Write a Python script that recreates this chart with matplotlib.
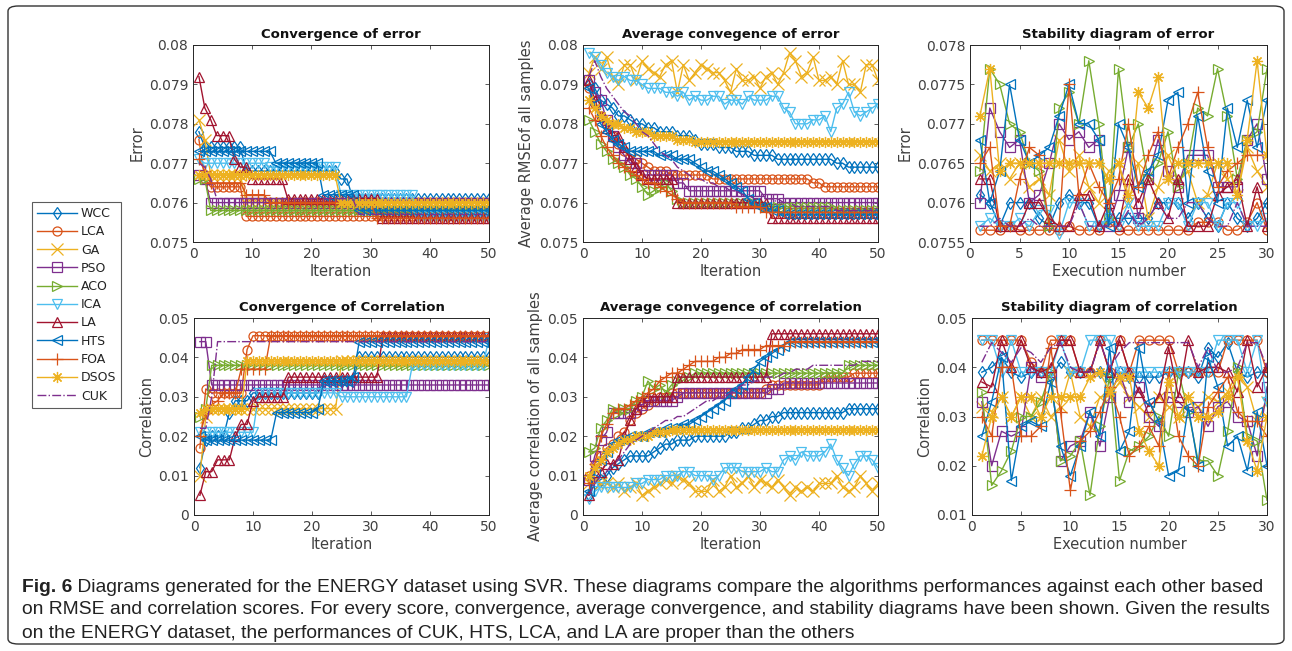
import matplotlib
matplotlib.use("Agg")
import matplotlib.pyplot as plt
from matplotlib.patches import FancyBboxPatch
from matplotlib.ticker import FuncFormatter

# --- series names / styles ---
names = ["WCC", "LCA", "GA", "PSO", "ACO", "ICA", "LA", "HTS", "FOA", "DSOS", "CUK"]
colors = ["#0072BD", "#D95319", "#EDB120", "#7E2F8E", "#77AC30", "#4DBEEE",
          "#A2142F", "#0072BD", "#D95319", "#EDB120", "#7E2F8E"]
markers = ["d", "o", "x", "s", ">", "v", "^", "<", "+", (8, 2, 0), None]

iters = list(range(1, 51))
runs = list(range(1, 31))

# --- Convergence of error ---
conv_err_wcc = [0.0778, 0.0774, 0.0774, 0.0774, 0.0774, 0.0774, 0.0774, 0.0774, 0.0768, 0.0768,
                0.0768, 0.0768, 0.0768, 0.0768, 0.0768, 0.0768, 0.0768, 0.0768, 0.0768, 0.0768,
                0.0768, 0.0768, 0.0768, 0.0768, 0.0766, 0.0766, 0.0761, 0.0761, 0.0761, 0.0761,
                0.0761, 0.0761, 0.0761, 0.0761, 0.0761, 0.0761, 0.0761, 0.0761, 0.0761, 0.0761,
                0.0761, 0.0761, 0.0761, 0.0761, 0.0761, 0.0761, 0.0761, 0.0761, 0.0761, 0.0761]
conv_err_lca = [0.0776, 0.0766, 0.0764, 0.0764, 0.0764, 0.0764, 0.0764, 0.0764, 0.07565, 0.07565,
                0.07565, 0.07565, 0.07565, 0.07565, 0.07565, 0.07565, 0.07565, 0.07565, 0.07565, 0.07565,
                0.07565, 0.07565, 0.07565, 0.07565, 0.07565, 0.07565, 0.07565, 0.07565, 0.07565, 0.07565,
                0.07565, 0.07565, 0.07565, 0.07565, 0.07565, 0.07565, 0.07565, 0.07565, 0.07565, 0.07565,
                0.07565, 0.07565, 0.07565, 0.07565, 0.07565, 0.07565, 0.07565, 0.07565, 0.07565, 0.07565]
conv_err_ga = [0.0781, 0.0776, 0.0767, 0.0767, 0.0767, 0.0767, 0.0767, 0.0767, 0.0760, 0.0760,
               0.0760, 0.0760, 0.0760, 0.0760, 0.0760, 0.0760, 0.0760, 0.0760, 0.0760, 0.0760,
               0.0760, 0.0760, 0.0760, 0.0760, 0.0760, 0.0760, 0.0760, 0.0760, 0.0760, 0.0760,
               0.0760, 0.0760, 0.0760, 0.0760, 0.0760, 0.0760, 0.0760, 0.0760, 0.0760, 0.0760,
               0.0760, 0.0760, 0.0760, 0.0760, 0.0760, 0.0760, 0.0760, 0.0760, 0.0760, 0.0760]
conv_err_pso = [0.0767, 0.0766, 0.0760, 0.0760, 0.0760, 0.0760, 0.0760, 0.0760, 0.0760, 0.0760,
                0.0760, 0.0760, 0.0760, 0.0760, 0.0760, 0.0760, 0.0760, 0.0760, 0.0760, 0.0760,
                0.0760, 0.0760, 0.0760, 0.0760, 0.0760, 0.0760, 0.0760, 0.0760, 0.0760, 0.0760,
                0.0760, 0.0760, 0.0760, 0.0760, 0.0760, 0.0760, 0.0760, 0.0760, 0.0760, 0.0760,
                0.0760, 0.0760, 0.0760, 0.0760, 0.0760, 0.0760, 0.0760, 0.0760, 0.0760, 0.0760]
conv_err_aco = [0.0766, 0.0766, 0.0758, 0.0758, 0.0758, 0.0758, 0.0758, 0.0758, 0.0758, 0.0758,
                0.0758, 0.0758, 0.0758, 0.0758, 0.0758, 0.0758, 0.0758, 0.0758, 0.0758, 0.0758,
                0.0758, 0.0758, 0.0758, 0.0758, 0.0758, 0.0758, 0.0758, 0.0758, 0.0758, 0.0758,
                0.0758, 0.0758, 0.0758, 0.0758, 0.0758, 0.0758, 0.0758, 0.0758, 0.0758, 0.0758,
                0.0758, 0.0758, 0.0758, 0.0758, 0.0758, 0.0758, 0.0758, 0.0758, 0.0758, 0.0758]
conv_err_ica = [0.0771, 0.0770, 0.0770, 0.0770, 0.0770, 0.0770, 0.0770, 0.0770, 0.0770, 0.0770,
                0.0770, 0.0770, 0.0769, 0.0769, 0.0769, 0.0769, 0.0769, 0.0769, 0.0769, 0.0769,
                0.0769, 0.0769, 0.0769, 0.0769, 0.0762, 0.0762, 0.0762, 0.0762, 0.0762, 0.0762,
                0.0762, 0.0762, 0.0762, 0.0762, 0.0762, 0.0762, 0.0762, 0.07565, 0.07565, 0.07565,
                0.07565, 0.07565, 0.07565, 0.07565, 0.07565, 0.07565, 0.07565, 0.07565, 0.07565, 0.07565]
conv_err_la = [0.0792, 0.0784, 0.0781, 0.0777, 0.0777, 0.0777, 0.0771, 0.0769, 0.0769, 0.0766,
               0.0766, 0.0766, 0.0766, 0.0766, 0.0766, 0.0761, 0.0761, 0.0761, 0.0761, 0.0761,
               0.0761, 0.0761, 0.0761, 0.0761, 0.0761, 0.0761, 0.0761, 0.0761, 0.0761, 0.0761,
               0.0761, 0.0756, 0.0756, 0.0756, 0.0756, 0.0756, 0.0756, 0.0756, 0.0756, 0.0756,
               0.0756, 0.0756, 0.0756, 0.0756, 0.0756, 0.0756, 0.0756, 0.0756, 0.0756, 0.0756]
conv_err_hts = [0.0773, 0.0773, 0.0773, 0.0773, 0.0773, 0.0773, 0.0773, 0.0773, 0.0773, 0.0773,
                0.0773, 0.0773, 0.0773, 0.0770, 0.0770, 0.0770, 0.0770, 0.0770, 0.0770, 0.0770,
                0.0770, 0.0762, 0.0762, 0.0762, 0.0762, 0.0762, 0.0762, 0.0758, 0.0758, 0.0758,
                0.0758, 0.0758, 0.0758, 0.0758, 0.0758, 0.0758, 0.0758, 0.0758, 0.0758, 0.0758,
                0.0758, 0.0758, 0.0758, 0.0758, 0.0758, 0.0758, 0.0758, 0.0758, 0.0758, 0.0758]
conv_err_foa = [0.0771, 0.0768, 0.0765, 0.0765, 0.0765, 0.0765, 0.0765, 0.0765, 0.0762, 0.0762,
                0.0762, 0.0762, 0.0760, 0.0760, 0.0760, 0.0760, 0.0760, 0.0760, 0.0760, 0.0760,
                0.0760, 0.0760, 0.0760, 0.0760, 0.0760, 0.0760, 0.0760, 0.0760, 0.0760, 0.0760,
                0.0756, 0.0756, 0.0756, 0.0756, 0.0756, 0.0756, 0.0756, 0.0756, 0.0756, 0.0756,
                0.0756, 0.0756, 0.0756, 0.0756, 0.0756, 0.0756, 0.0756, 0.0756, 0.0756, 0.0756]
conv_err_dsos = [0.0767, 0.0767, 0.0767, 0.0767, 0.0767, 0.0767, 0.0767, 0.0767, 0.0767, 0.0767,
                 0.0767, 0.0767, 0.0767, 0.0767, 0.0767, 0.0767, 0.0767, 0.0767, 0.0767, 0.0767,
                 0.0767, 0.0767, 0.0767, 0.0767, 0.0760, 0.0760, 0.0760, 0.0760, 0.0760, 0.0760,
                 0.0760, 0.0760, 0.0760, 0.0760, 0.0760, 0.0760, 0.0760, 0.0760, 0.0760, 0.0760,
                 0.0760, 0.0760, 0.0760, 0.0760, 0.0760, 0.0760, 0.0760, 0.0760, 0.0760, 0.0760]
conv_err_cuk = [0.0770, 0.0769, 0.0766, 0.0761, 0.0761, 0.0761, 0.0761, 0.0761, 0.0761, 0.0761,
                0.0761, 0.0761, 0.0761, 0.0761, 0.0761, 0.0761, 0.0761, 0.0761, 0.0761, 0.0761,
                0.0761, 0.0761, 0.0761, 0.0761, 0.0761, 0.0761, 0.0761, 0.0757, 0.0757, 0.0757,
                0.0757, 0.0757, 0.0757, 0.0757, 0.0757, 0.0757, 0.0757, 0.0757, 0.0757, 0.0757,
                0.0757, 0.0757, 0.0757, 0.0757, 0.0757, 0.0757, 0.0757, 0.0757, 0.0757, 0.0757]

# --- Average convergence of error ---
avg_err_wcc = [0.0790, 0.0789, 0.0786, 0.0785, 0.0784, 0.0782, 0.0782, 0.0781, 0.0780, 0.0780,
               0.0779, 0.0779, 0.0778, 0.0778, 0.0778, 0.0777, 0.0777, 0.0777, 0.0776, 0.0775,
               0.0775, 0.0775, 0.0774, 0.0774, 0.0774, 0.0773, 0.0773, 0.0773, 0.0772, 0.0772,
               0.0772, 0.0772, 0.0771, 0.0771, 0.0771, 0.0771, 0.0771, 0.0771, 0.0771, 0.0771,
               0.0771, 0.0771, 0.0770, 0.0770, 0.0769, 0.0769, 0.0769, 0.0769, 0.0769, 0.0769]
avg_err_lca = [0.0789, 0.0785, 0.0782, 0.0780, 0.0777, 0.0775, 0.0773, 0.0772, 0.0771, 0.0770,
               0.0769, 0.0768, 0.0768, 0.0768, 0.0767, 0.0767, 0.0767, 0.0767, 0.0767, 0.0767,
               0.0767, 0.0766, 0.0766, 0.0766, 0.0766, 0.0766, 0.0766, 0.0766, 0.0766, 0.0766,
               0.0766, 0.0766, 0.0766, 0.0766, 0.0766, 0.0766, 0.0766, 0.0766, 0.0765, 0.0765,
               0.0764, 0.0764, 0.0764, 0.0764, 0.0764, 0.0764, 0.0764, 0.0764, 0.0764, 0.0764]
avg_err_ga = [0.0793, 0.0797, 0.0794, 0.0797, 0.0792, 0.0790, 0.0795, 0.0795, 0.0791, 0.0796,
              0.0794, 0.0793, 0.0792, 0.0795, 0.0796, 0.0788, 0.0795, 0.0791, 0.0793, 0.0795,
              0.0794, 0.0793, 0.0793, 0.0791, 0.0788, 0.0794, 0.0791, 0.0791, 0.0792, 0.0789,
              0.0792, 0.0793, 0.0790, 0.0793, 0.0798, 0.0796, 0.0792, 0.0793, 0.0797, 0.0791,
              0.0791, 0.0792, 0.0790, 0.0796, 0.0790, 0.0790, 0.0788, 0.0795, 0.0795, 0.0791]
avg_err_pso = [0.0791, 0.0788, 0.0786, 0.0781, 0.0777, 0.0774, 0.0772, 0.0770, 0.0770, 0.0767,
               0.0767, 0.0767, 0.0767, 0.0767, 0.0767, 0.0765, 0.0765, 0.0763, 0.0763, 0.0763,
               0.0763, 0.0763, 0.0763, 0.0763, 0.0763, 0.0763, 0.0763, 0.0763, 0.0763, 0.0763,
               0.0761, 0.0761, 0.0761, 0.0760, 0.0760, 0.0760, 0.0760, 0.0760, 0.0760, 0.0760,
               0.0760, 0.0760, 0.0760, 0.0760, 0.0760, 0.0760, 0.0760, 0.0760, 0.0760, 0.0760]
avg_err_aco = [0.0781, 0.0778, 0.0775, 0.0773, 0.0771, 0.0770, 0.0769, 0.0767, 0.0766, 0.0764,
               0.0762, 0.0763, 0.0764, 0.0765, 0.0763, 0.0761, 0.0760, 0.0760, 0.0760, 0.0760,
               0.0760, 0.0760, 0.0760, 0.0760, 0.0760, 0.0760, 0.0760, 0.0760, 0.0760, 0.0760,
               0.0759, 0.0759, 0.0759, 0.0759, 0.0759, 0.0759, 0.0759, 0.0759, 0.0759, 0.0759,
               0.0759, 0.0759, 0.0758, 0.0758, 0.0758, 0.0758, 0.0758, 0.0758, 0.0758, 0.0758]
avg_err_ica = [0.0798, 0.0797, 0.0795, 0.0793, 0.0792, 0.0791, 0.0792, 0.0791, 0.0791, 0.0790,
               0.0789, 0.0789, 0.0789, 0.0788, 0.0788, 0.0787, 0.0788, 0.0786, 0.0787, 0.0786,
               0.0786, 0.0787, 0.0787, 0.0785, 0.0786, 0.0786, 0.0785, 0.0787, 0.0786, 0.0786,
               0.0786, 0.0787, 0.0787, 0.0784, 0.0783, 0.0780, 0.0780, 0.0780, 0.0781, 0.0781,
               0.0782, 0.0778, 0.0784, 0.0785, 0.0788, 0.0783, 0.0782, 0.0783, 0.0784, 0.0785]
avg_err_la = [0.0791, 0.0786, 0.0782, 0.0779, 0.0777, 0.0777, 0.0774, 0.0771, 0.0769, 0.0767,
              0.0766, 0.0766, 0.0766, 0.0766, 0.0766, 0.0760, 0.0760, 0.0760, 0.0760, 0.0760,
              0.0760, 0.0760, 0.0760, 0.0760, 0.0760, 0.0760, 0.0760, 0.0760, 0.0760, 0.0760,
              0.0760, 0.0756, 0.0756, 0.0756, 0.0756, 0.0756, 0.0756, 0.0756, 0.0756, 0.0756,
              0.0756, 0.0756, 0.0756, 0.0756, 0.0756, 0.0756, 0.0756, 0.0756, 0.0756, 0.0756]
avg_err_hts = [0.0789, 0.0785, 0.0780, 0.0778, 0.0776, 0.0775, 0.0774, 0.0773, 0.0773, 0.0773,
               0.0773, 0.0773, 0.0772, 0.0772, 0.0772, 0.0771, 0.0771, 0.0771, 0.0770, 0.0769,
               0.0768, 0.0768, 0.0767, 0.0766, 0.0765, 0.0764, 0.0763, 0.0761, 0.0760, 0.0759,
               0.0759, 0.0758, 0.0758, 0.0757, 0.0757, 0.0757, 0.0757, 0.0757, 0.0757, 0.0757,
               0.0757, 0.0757, 0.0757, 0.0757, 0.0757, 0.0757, 0.0757, 0.0757, 0.0757, 0.0757]
avg_err_foa = [0.0784, 0.0781, 0.0777, 0.0774, 0.0772, 0.0770, 0.0769, 0.0768, 0.0767, 0.0766,
               0.0765, 0.0765, 0.0764, 0.0763, 0.0762, 0.0761, 0.0760, 0.0760, 0.0760, 0.0760,
               0.0760, 0.0760, 0.0760, 0.0760, 0.0760, 0.0759, 0.0759, 0.0759, 0.0759, 0.0759,
               0.07575, 0.07575, 0.07575, 0.07575, 0.07575, 0.07575, 0.07575, 0.07575, 0.07575, 0.07575,
               0.07575, 0.07575, 0.07575, 0.07575, 0.07575, 0.07575, 0.07575, 0.07575, 0.07575, 0.07575]
avg_err_dsos = [0.0786, 0.0784, 0.0782, 0.0781, 0.0780, 0.0780, 0.0779, 0.0779, 0.0778, 0.0778,
                0.0778, 0.0777, 0.0777, 0.0777, 0.0777, 0.0776, 0.0776, 0.0776, 0.07755, 0.07755,
                0.07755, 0.07755, 0.07755, 0.07755, 0.07755, 0.07755, 0.07755, 0.07755, 0.07755, 0.07755,
                0.07755, 0.07755, 0.07755, 0.07755, 0.07755, 0.07755, 0.07755, 0.07755, 0.07755, 0.07755,
                0.07755, 0.07755, 0.07755, 0.07755, 0.07755, 0.07755, 0.07755, 0.07755, 0.07755, 0.07755]
avg_err_cuk = [0.0792, 0.0796, 0.0792, 0.0789, 0.0787, 0.0785, 0.0783, 0.0782, 0.0780, 0.0778,
               0.0777, 0.0775, 0.0773, 0.0772, 0.0771, 0.0769, 0.0768, 0.0767, 0.0766, 0.0766,
               0.0765, 0.0765, 0.0764, 0.0764, 0.0763, 0.0763, 0.0762, 0.0762, 0.0761, 0.0761,
               0.0761, 0.0761, 0.0760, 0.0760, 0.0760, 0.0759, 0.0759, 0.0759, 0.0759, 0.0759,
               0.0759, 0.0759, 0.0758, 0.0758, 0.0758, 0.0758, 0.0758, 0.0758, 0.0758, 0.0758]

# --- Stability diagram of error ---
stab_err_wcc = [0.0761, 0.0760, 0.0757, 0.0760, 0.0760, 0.0760, 0.0758, 0.0757, 0.0760, 0.0761,
                0.0760, 0.0760, 0.0757, 0.0758, 0.0758, 0.0758, 0.0758, 0.0758, 0.0760, 0.0760,
                0.0760, 0.0758, 0.0760, 0.0758, 0.0757, 0.0760, 0.0758, 0.0757, 0.0758, 0.0760]
stab_err_lca = [0.07565, 0.07565, 0.07565, 0.0757, 0.07565, 0.07565, 0.07565, 0.07565, 0.07565, 0.0757,
                0.07565, 0.07565, 0.07565, 0.07575, 0.07565, 0.07565, 0.07565, 0.07565, 0.07565, 0.07565,
                0.07565, 0.07565, 0.07575, 0.07575, 0.07575, 0.07565, 0.07565, 0.07575, 0.0760, 0.07565]
stab_err_ga = [0.0766, 0.0764, 0.0765, 0.0763, 0.0765, 0.0762, 0.0763, 0.0761, 0.0768, 0.0764,
               0.0766, 0.0762, 0.0760, 0.0764, 0.0765, 0.0760, 0.0765, 0.0758, 0.0762, 0.0766,
               0.0763, 0.0764, 0.0760, 0.0761, 0.0765, 0.0763, 0.0761, 0.0767, 0.0764, 0.0762]
stab_err_pso = [0.0760, 0.0772, 0.0769, 0.0767, 0.0768, 0.0760, 0.0761, 0.0765, 0.0770, 0.0768,
                0.0769, 0.0767, 0.0768, 0.0757, 0.0761, 0.0767, 0.0758, 0.0763, 0.0768, 0.0764,
                0.0762, 0.0766, 0.0766, 0.0766, 0.0762, 0.0762, 0.0762, 0.0768, 0.0770, 0.0763]
stab_err_aco = [0.0764, 0.0777, 0.0775, 0.0770, 0.0769, 0.0765, 0.0764, 0.0757, 0.0772, 0.0774,
                0.0770, 0.0778, 0.0770, 0.0758, 0.0777, 0.0767, 0.0770, 0.0763, 0.0765, 0.0769,
                0.0762, 0.0765, 0.0772, 0.0771, 0.0777, 0.0771, 0.0763, 0.0768, 0.0769, 0.0777]
stab_err_ica = [0.0757, 0.0758, 0.0757, 0.0757, 0.0758, 0.0757, 0.0759, 0.0759, 0.0756, 0.0760,
                0.0760, 0.0757, 0.0757, 0.0758, 0.0757, 0.0760, 0.0757, 0.0757, 0.0757, 0.0760,
                0.0760, 0.0757, 0.0760, 0.0760, 0.0757, 0.0760, 0.0760, 0.0757, 0.0757, 0.0758]
stab_err_la = [0.0763, 0.0763, 0.0757, 0.0757, 0.0757, 0.0760, 0.0760, 0.0758, 0.0757, 0.0757,
               0.0761, 0.0761, 0.0757, 0.0760, 0.0757, 0.0763, 0.0760, 0.0763, 0.0760, 0.0758,
               0.0763, 0.0757, 0.0757, 0.0757, 0.0761, 0.0762, 0.0763, 0.0757, 0.0762, 0.0757]
stab_err_hts = [0.0768, 0.0760, 0.0764, 0.0775, 0.0768, 0.0765, 0.0766, 0.0767, 0.0771, 0.0775,
                0.0770, 0.0770, 0.0768, 0.0757, 0.0770, 0.0767, 0.0762, 0.0764, 0.0766, 0.0773,
                0.0774, 0.0760, 0.0771, 0.0764, 0.0760, 0.0772, 0.0767, 0.0773, 0.0767, 0.0773]
stab_err_foa = [0.0765, 0.0767, 0.0757, 0.0757, 0.0763, 0.0767, 0.0766, 0.0757, 0.0757, 0.0775,
                0.0761, 0.0765, 0.0762, 0.0760, 0.0763, 0.0770, 0.0762, 0.0766, 0.0769, 0.0763,
                0.0767, 0.0770, 0.0774, 0.0767, 0.0762, 0.0764, 0.0765, 0.0766, 0.0766, 0.0766]
stab_err_dsos = [0.0771, 0.0777, 0.0764, 0.0765, 0.0765, 0.0765, 0.0765, 0.0765, 0.0765, 0.0765,
                 0.0765, 0.0765, 0.0765, 0.0763, 0.0765, 0.0761, 0.0774, 0.0772, 0.0776, 0.0763,
                 0.0765, 0.0765, 0.0765, 0.0765, 0.0765, 0.0765, 0.0761, 0.0768, 0.0778, 0.0766]
stab_err_cuk = [0.0757, 0.0757, 0.0758, 0.0757, 0.0757, 0.0758, 0.0757, 0.0757, 0.0757, 0.0757,
                0.0760, 0.0757, 0.0757, 0.0757, 0.0757, 0.0759, 0.0757, 0.0758, 0.0760, 0.0758,
                0.0758, 0.0760, 0.0760, 0.0758, 0.0757, 0.0757, 0.0760, 0.0757, 0.0757, 0.0757]

# --- Convergence of Correlation ---
conv_cor_wcc = [0.012, 0.019, 0.020, 0.020, 0.020, 0.026, 0.029, 0.029, 0.029, 0.031,
                0.031, 0.031, 0.031, 0.031, 0.031, 0.031, 0.031, 0.031, 0.031, 0.031,
                0.031, 0.034, 0.034, 0.034, 0.034, 0.034, 0.034, 0.040, 0.040, 0.040,
                0.040, 0.040, 0.040, 0.040, 0.040, 0.040, 0.040, 0.040, 0.040, 0.040,
                0.040, 0.040, 0.040, 0.040, 0.040, 0.040, 0.040, 0.040, 0.040, 0.040]
conv_cor_lca = [0.017, 0.032, 0.031, 0.031, 0.031, 0.031, 0.031, 0.031, 0.042, 0.0455,
                0.0455, 0.0455, 0.0455, 0.0455, 0.0455, 0.0455, 0.0455, 0.0455, 0.0455, 0.0455,
                0.0455, 0.0455, 0.0455, 0.0455, 0.0455, 0.0455, 0.0455, 0.0455, 0.0455, 0.0455,
                0.0455, 0.0455, 0.0455, 0.0455, 0.0455, 0.0455, 0.0455, 0.0455, 0.0455, 0.0455,
                0.0455, 0.0455, 0.0455, 0.0455, 0.0455, 0.0455, 0.0455, 0.0455, 0.0455, 0.0455]
conv_cor_ga = [0.010, 0.025, 0.027, 0.027, 0.027, 0.027, 0.027, 0.027, 0.027, 0.027,
               0.027, 0.027, 0.027, 0.027, 0.027, 0.027, 0.027, 0.027, 0.027, 0.027,
               0.027, 0.027, 0.027, 0.027, 0.039, 0.039, 0.039, 0.039, 0.039, 0.039,
               0.039, 0.039, 0.039, 0.039, 0.039, 0.039, 0.039, 0.039, 0.039, 0.039,
               0.039, 0.039, 0.039, 0.039, 0.039, 0.039, 0.039, 0.039, 0.039, 0.039]
conv_cor_pso = [0.044, 0.044, 0.033, 0.033, 0.033, 0.033, 0.033, 0.033, 0.033, 0.033,
                0.033, 0.033, 0.033, 0.033, 0.033, 0.033, 0.033, 0.033, 0.033, 0.033,
                0.033, 0.033, 0.033, 0.033, 0.033, 0.033, 0.033, 0.033, 0.033, 0.033,
                0.033, 0.033, 0.033, 0.033, 0.033, 0.033, 0.033, 0.033, 0.033, 0.033,
                0.033, 0.033, 0.033, 0.033, 0.033, 0.033, 0.033, 0.033, 0.033, 0.033]
conv_cor_aco = [0.025, 0.027, 0.038, 0.038, 0.038, 0.038, 0.038, 0.038, 0.038, 0.038,
                0.038, 0.038, 0.038, 0.038, 0.038, 0.038, 0.038, 0.038, 0.038, 0.038,
                0.038, 0.038, 0.038, 0.038, 0.038, 0.038, 0.038, 0.038, 0.038, 0.038,
                0.038, 0.038, 0.038, 0.038, 0.038, 0.038, 0.038, 0.038, 0.038, 0.038,
                0.038, 0.038, 0.038, 0.038, 0.038, 0.038, 0.038, 0.038, 0.038, 0.038]
conv_cor_ica = [0.021, 0.021, 0.021, 0.021, 0.021, 0.021, 0.021, 0.021, 0.021, 0.021,
                0.031, 0.031, 0.031, 0.031, 0.031, 0.031, 0.031, 0.031, 0.031, 0.031,
                0.031, 0.031, 0.031, 0.031, 0.030, 0.030, 0.030, 0.030, 0.030, 0.030,
                0.030, 0.030, 0.030, 0.030, 0.030, 0.030, 0.038, 0.038, 0.038, 0.038,
                0.038, 0.038, 0.038, 0.038, 0.038, 0.038, 0.038, 0.038, 0.038, 0.045]
conv_cor_la = [0.005, 0.011, 0.011, 0.014, 0.014, 0.014, 0.020, 0.023, 0.023, 0.029,
               0.030, 0.030, 0.030, 0.030, 0.030, 0.035, 0.035, 0.035, 0.035, 0.035,
               0.035, 0.035, 0.035, 0.035, 0.035, 0.035, 0.035, 0.035, 0.035, 0.035,
               0.035, 0.0455, 0.0455, 0.0455, 0.0455, 0.0455, 0.0455, 0.0455, 0.0455, 0.0455,
               0.0455, 0.0455, 0.0455, 0.0455, 0.0455, 0.0455, 0.0455, 0.0455, 0.0455, 0.0455]
conv_cor_hts = [0.020, 0.019, 0.019, 0.019, 0.019, 0.019, 0.019, 0.019, 0.019, 0.019,
                0.019, 0.019, 0.019, 0.026, 0.026, 0.026, 0.026, 0.026, 0.026, 0.026,
                0.027, 0.034, 0.034, 0.034, 0.034, 0.034, 0.035, 0.044, 0.044, 0.044,
                0.044, 0.044, 0.044, 0.044, 0.044, 0.044, 0.044, 0.044, 0.044, 0.044,
                0.044, 0.044, 0.044, 0.044, 0.044, 0.044, 0.044, 0.044, 0.044, 0.044]
conv_cor_foa = [0.020, 0.026, 0.028, 0.029, 0.031, 0.031, 0.031, 0.037, 0.037, 0.037,
                0.037, 0.037, 0.0455, 0.0455, 0.0455, 0.0455, 0.0455, 0.0455, 0.0455, 0.0455,
                0.0455, 0.0455, 0.0455, 0.0455, 0.0455, 0.0455, 0.0455, 0.0455, 0.0455, 0.0455,
                0.0455, 0.0455, 0.0455, 0.0455, 0.0455, 0.0455, 0.0455, 0.0455, 0.0455, 0.0455,
                0.0455, 0.0455, 0.0455, 0.0455, 0.0455, 0.0455, 0.0455, 0.0455, 0.0455, 0.0455]
conv_cor_dsos = [0.026, 0.027, 0.027, 0.027, 0.027, 0.027, 0.027, 0.027, 0.039, 0.039,
                 0.039, 0.039, 0.039, 0.039, 0.039, 0.039, 0.039, 0.039, 0.039, 0.039,
                 0.039, 0.039, 0.039, 0.039, 0.039, 0.039, 0.039, 0.039, 0.039, 0.039,
                 0.039, 0.039, 0.039, 0.039, 0.039, 0.039, 0.039, 0.039, 0.039, 0.039,
                 0.039, 0.039, 0.039, 0.039, 0.039, 0.039, 0.039, 0.039, 0.039, 0.039]
conv_cor_cuk = [0.022, 0.022, 0.030, 0.044, 0.044, 0.044, 0.044, 0.044, 0.044, 0.044,
                0.044, 0.044, 0.044, 0.044, 0.044, 0.044, 0.044, 0.044, 0.044, 0.044,
                0.044, 0.044, 0.044, 0.044, 0.044, 0.044, 0.044, 0.044, 0.044, 0.044,
                0.044, 0.044, 0.044, 0.044, 0.044, 0.044, 0.044, 0.044, 0.044, 0.044,
                0.044, 0.044, 0.044, 0.044, 0.044, 0.044, 0.044, 0.044, 0.044, 0.044]

# --- Average convegence of correlation ---
avg_cor_wcc = [0.005, 0.008, 0.009, 0.010, 0.012, 0.013, 0.014, 0.015, 0.015, 0.015,
               0.015, 0.016, 0.017, 0.018, 0.018, 0.019, 0.019, 0.019, 0.020, 0.020,
               0.020, 0.020, 0.020, 0.020, 0.021, 0.021, 0.022, 0.022, 0.023, 0.024,
               0.024, 0.025, 0.025, 0.026, 0.026, 0.026, 0.026, 0.026, 0.026, 0.026,
               0.026, 0.026, 0.026, 0.026, 0.027, 0.027, 0.027, 0.027, 0.027, 0.027]
avg_cor_lca = [0.010, 0.013, 0.015, 0.017, 0.018, 0.020, 0.021, 0.024, 0.026, 0.027,
               0.028, 0.029, 0.030, 0.030, 0.031, 0.031, 0.031, 0.031, 0.031, 0.031,
               0.031, 0.031, 0.031, 0.031, 0.031, 0.031, 0.031, 0.031, 0.031, 0.031,
               0.032, 0.033, 0.033, 0.033, 0.033, 0.033, 0.033, 0.033, 0.033, 0.033,
               0.035, 0.035, 0.035, 0.035, 0.035, 0.036, 0.036, 0.036, 0.036, 0.036]
avg_cor_ga = [0.008, 0.009, 0.008, 0.008, 0.007, 0.008, 0.006, 0.007, 0.008, 0.005,
              0.006, 0.007, 0.008, 0.009, 0.008, 0.010, 0.009, 0.008, 0.006, 0.006,
              0.006, 0.009, 0.006, 0.007, 0.010, 0.007, 0.008, 0.010, 0.007, 0.009,
              0.008, 0.007, 0.009, 0.007, 0.005, 0.007, 0.006, 0.007, 0.006, 0.008,
              0.008, 0.008, 0.010, 0.007, 0.006, 0.007, 0.010, 0.008, 0.006, 0.008]
avg_cor_pso = [0.009, 0.015, 0.019, 0.021, 0.026, 0.026, 0.026, 0.026, 0.027, 0.028,
               0.029, 0.029, 0.029, 0.029, 0.029, 0.030, 0.031, 0.031, 0.031, 0.031,
               0.031, 0.031, 0.031, 0.031, 0.031, 0.031, 0.031, 0.031, 0.031, 0.031,
               0.031, 0.032, 0.032, 0.0335, 0.0335, 0.0335, 0.0335, 0.0335, 0.0335, 0.0335,
               0.0335, 0.0335, 0.0335, 0.0335, 0.0335, 0.0335, 0.0335, 0.0335, 0.0335, 0.0335]
avg_cor_aco = [0.016, 0.017, 0.022, 0.024, 0.027, 0.026, 0.027, 0.027, 0.029, 0.030,
               0.034, 0.032, 0.033, 0.031, 0.033, 0.034, 0.035, 0.035, 0.036, 0.036,
               0.036, 0.036, 0.036, 0.036, 0.036, 0.036, 0.036, 0.036, 0.036, 0.036,
               0.036, 0.036, 0.036, 0.036, 0.036, 0.036, 0.036, 0.036, 0.036, 0.036,
               0.036, 0.036, 0.036, 0.036, 0.038, 0.038, 0.038, 0.038, 0.038, 0.038]
avg_cor_ica = [0.004, 0.006, 0.007, 0.007, 0.007, 0.007, 0.007, 0.007, 0.008, 0.008,
               0.009, 0.009, 0.009, 0.010, 0.010, 0.010, 0.011, 0.011, 0.010, 0.010,
               0.010, 0.009, 0.010, 0.012, 0.012, 0.012, 0.011, 0.011, 0.011, 0.011,
               0.012, 0.011, 0.011, 0.014, 0.015, 0.014, 0.016, 0.015, 0.015, 0.015,
               0.016, 0.018, 0.014, 0.012, 0.010, 0.013, 0.015, 0.015, 0.014, 0.012]
avg_cor_la = [0.005, 0.011, 0.011, 0.013, 0.013, 0.014, 0.020, 0.024, 0.027, 0.029,
              0.030, 0.030, 0.030, 0.030, 0.030, 0.035, 0.035, 0.035, 0.035, 0.035,
              0.035, 0.035, 0.035, 0.035, 0.035, 0.035, 0.035, 0.035, 0.035, 0.035,
              0.035, 0.046, 0.046, 0.046, 0.046, 0.046, 0.046, 0.046, 0.046, 0.046,
              0.046, 0.046, 0.046, 0.046, 0.046, 0.046, 0.046, 0.046, 0.046, 0.046]
avg_cor_hts = [0.006, 0.011, 0.014, 0.016, 0.018, 0.019, 0.019, 0.020, 0.020, 0.020,
               0.021, 0.021, 0.021, 0.022, 0.022, 0.022, 0.023, 0.023, 0.024, 0.025,
               0.026, 0.027, 0.028, 0.029, 0.031, 0.032, 0.033, 0.035, 0.037, 0.039,
               0.040, 0.041, 0.042, 0.043, 0.044, 0.044, 0.044, 0.044, 0.044, 0.044,
               0.044, 0.044, 0.044, 0.044, 0.044, 0.044, 0.044, 0.044, 0.044, 0.044]
avg_cor_foa = [0.008, 0.013, 0.020, 0.023, 0.026, 0.027, 0.027, 0.028, 0.029, 0.030,
               0.031, 0.032, 0.034, 0.035, 0.036, 0.036, 0.037, 0.038, 0.039, 0.039,
               0.039, 0.039, 0.040, 0.040, 0.041, 0.041, 0.042, 0.042, 0.042, 0.042,
               0.043, 0.043, 0.043, 0.043, 0.044, 0.044, 0.044, 0.044, 0.044, 0.044,
               0.044, 0.044, 0.044, 0.044, 0.044, 0.044, 0.044, 0.044, 0.044, 0.044]
avg_cor_dsos = [0.010, 0.012, 0.014, 0.016, 0.017, 0.018, 0.019, 0.019, 0.020, 0.020,
                0.020, 0.021, 0.021, 0.021, 0.0215, 0.0215, 0.0215, 0.0215, 0.0215, 0.0215,
                0.0215, 0.0215, 0.0215, 0.0215, 0.0215, 0.0215, 0.0215, 0.0215, 0.0215, 0.0215,
                0.0215, 0.0215, 0.0215, 0.0215, 0.0215, 0.0215, 0.0215, 0.0215, 0.0215, 0.0215,
                0.0215, 0.0215, 0.0215, 0.0215, 0.0215, 0.0215, 0.0215, 0.0215, 0.0215, 0.0215]
avg_cor_cuk = [0.005, 0.008, 0.010, 0.011, 0.013, 0.014, 0.016, 0.018, 0.019, 0.020,
               0.021, 0.022, 0.023, 0.024, 0.024, 0.025, 0.025, 0.026, 0.027, 0.028,
               0.029, 0.029, 0.030, 0.030, 0.031, 0.032, 0.033, 0.033, 0.034, 0.034,
               0.035, 0.035, 0.035, 0.036, 0.036, 0.037, 0.037, 0.037, 0.038, 0.038,
               0.038, 0.038, 0.038, 0.038, 0.038, 0.038, 0.039, 0.039, 0.039, 0.039]

# --- Stability diagram of correlation ---
stab_cor_wcc = [0.039, 0.040, 0.042, 0.039, 0.038, 0.039, 0.039, 0.038, 0.041, 0.039,
                0.039, 0.039, 0.039, 0.038, 0.039, 0.038, 0.038, 0.038, 0.038, 0.039,
                0.039, 0.039, 0.038, 0.044, 0.042, 0.045, 0.039, 0.038, 0.039, 0.039]
stab_cor_lca = [0.0455, 0.0455, 0.0455, 0.0455, 0.0455, 0.041, 0.039, 0.0455, 0.0455, 0.0455,
                0.039, 0.039, 0.0455, 0.039, 0.0455, 0.039, 0.0455, 0.0455, 0.0455, 0.0455,
                0.039, 0.039, 0.039, 0.039, 0.039, 0.0455, 0.0455, 0.0455, 0.0455, 0.039]
stab_cor_ga = [0.032, 0.031, 0.034, 0.030, 0.034, 0.030, 0.034, 0.030, 0.032, 0.039,
               0.030, 0.028, 0.034, 0.034, 0.037, 0.034, 0.032, 0.030, 0.034, 0.032,
               0.030, 0.034, 0.032, 0.034, 0.033, 0.035, 0.039, 0.036, 0.029, 0.033]
stab_cor_pso = [0.033, 0.020, 0.027, 0.026, 0.027, 0.040, 0.038, 0.039, 0.021, 0.024,
                0.025, 0.031, 0.024, 0.034, 0.039, 0.033, 0.036, 0.030, 0.028, 0.034,
                0.033, 0.031, 0.032, 0.028, 0.032, 0.033, 0.030, 0.029, 0.022, 0.036]
stab_cor_aco = [0.035, 0.016, 0.019, 0.023, 0.030, 0.030, 0.033, 0.039, 0.021, 0.022,
                0.025, 0.014, 0.028, 0.038, 0.017, 0.023, 0.024, 0.026, 0.030, 0.026,
                0.039, 0.031, 0.021, 0.021, 0.018, 0.027, 0.040, 0.026, 0.025, 0.013]
stab_cor_ica = [0.0455, 0.0455, 0.039, 0.0455, 0.039, 0.039, 0.039, 0.039, 0.0455, 0.039,
                0.039, 0.0455, 0.0455, 0.0455, 0.039, 0.039, 0.039, 0.039, 0.039, 0.039,
                0.039, 0.039, 0.039, 0.039, 0.0455, 0.0455, 0.0455, 0.039, 0.0455, 0.033]
stab_cor_la = [0.037, 0.036, 0.0455, 0.040, 0.0455, 0.040, 0.039, 0.040, 0.0455, 0.0455,
               0.039, 0.039, 0.0455, 0.039, 0.0455, 0.039, 0.035, 0.032, 0.034, 0.044,
               0.034, 0.0455, 0.039, 0.040, 0.040, 0.039, 0.035, 0.0455, 0.036, 0.040]
stab_cor_hts = [0.026, 0.033, 0.042, 0.017, 0.028, 0.029, 0.028, 0.037, 0.024, 0.018,
                0.024, 0.031, 0.026, 0.044, 0.023, 0.027, 0.044, 0.033, 0.029, 0.018,
                0.019, 0.032, 0.020, 0.042, 0.036, 0.024, 0.026, 0.019, 0.031, 0.020]
stab_cor_foa = [0.030, 0.026, 0.040, 0.040, 0.026, 0.026, 0.028, 0.044, 0.031, 0.015,
                0.025, 0.027, 0.031, 0.036, 0.030, 0.022, 0.024, 0.028, 0.024, 0.039,
                0.026, 0.022, 0.020, 0.032, 0.035, 0.038, 0.031, 0.029, 0.029, 0.026]
stab_cor_dsos = [0.022, 0.030, 0.034, 0.030, 0.034, 0.034, 0.030, 0.034, 0.034, 0.034,
                 0.034, 0.038, 0.039, 0.035, 0.038, 0.038, 0.027, 0.023, 0.020, 0.037,
                 0.030, 0.034, 0.030, 0.030, 0.031, 0.034, 0.038, 0.025, 0.019, 0.030]
stab_cor_cuk = [0.041, 0.045, 0.043, 0.041, 0.044, 0.043, 0.041, 0.044, 0.045, 0.040,
                0.039, 0.039, 0.045, 0.040, 0.043, 0.045, 0.045, 0.045, 0.045, 0.045,
                0.045, 0.045, 0.040, 0.044, 0.039, 0.039, 0.040, 0.045, 0.045, 0.040]

conv_err = [conv_err_wcc, conv_err_lca, conv_err_ga, conv_err_pso, conv_err_aco, conv_err_ica,
            conv_err_la, conv_err_hts, conv_err_foa, conv_err_dsos, conv_err_cuk]
avg_err = [avg_err_wcc, avg_err_lca, avg_err_ga, avg_err_pso, avg_err_aco, avg_err_ica,
           avg_err_la, avg_err_hts, avg_err_foa, avg_err_dsos, avg_err_cuk]
stab_err = [stab_err_wcc, stab_err_lca, stab_err_ga, stab_err_pso, stab_err_aco, stab_err_ica,
            stab_err_la, stab_err_hts, stab_err_foa, stab_err_dsos, stab_err_cuk]
conv_cor = [conv_cor_wcc, conv_cor_lca, conv_cor_ga, conv_cor_pso, conv_cor_aco, conv_cor_ica,
            conv_cor_la, conv_cor_hts, conv_cor_foa, conv_cor_dsos, conv_cor_cuk]
avg_cor = [avg_cor_wcc, avg_cor_lca, avg_cor_ga, avg_cor_pso, avg_cor_aco, avg_cor_ica,
           avg_cor_la, avg_cor_hts, avg_cor_foa, avg_cor_dsos, avg_cor_cuk]
stab_cor = [stab_cor_wcc, stab_cor_lca, stab_cor_ga, stab_cor_pso, stab_cor_aco, stab_cor_ica,
            stab_cor_la, stab_cor_hts, stab_cor_foa, stab_cor_dsos, stab_cor_cuk]

caption_bold = "Fig. 6"
caption_lines = [
    " Diagrams generated for the ENERGY dataset using SVR. These diagrams compare the algorithms performances against each other based",
    "on RMSE and correlation scores. For every score, convergence, average convergence, and stability diagrams have been shown. Given the results",
    "on the ENERGY dataset, the performances of CUK, HTS, LCA, and LA are proper than the others",
]

W, H = 1292, 651
TICK_C = "#404040"


def px_rect(x0, y0, x1, y1):
    return [x0 / W, 1 - y1 / H, (x1 - x0) / W, (y1 - y0) / H]


def draw_panel(ax, x, series, title, xlabel, ylabel, ylim, yticks, xticks):
    for i, ys in enumerate(series):
        if markers[i] is None:
            ax.plot(x, ys, linestyle="-.", color=colors[i], lw=1.0, label=names[i])
        else:
            ms = 8 if markers[i] in ("+", "x") or isinstance(markers[i], tuple) else 6.5
            ax.plot(x, ys, linestyle="-", color=colors[i], lw=1.0, marker=markers[i],
                    ms=ms, mfc="none", mec=colors[i], mew=0.9, label=names[i])
    ax.set_xlim(0, x[-1])
    ax.set_ylim(*ylim)
    ax.set_xticks(xticks)
    ax.set_yticks(yticks)
    ax.yaxis.set_major_formatter(FuncFormatter(lambda v, _: "%g" % round(v, 6)))
    ax.tick_params(direction="in", top=True, right=True, length=3, width=0.6,
                   labelsize=10, colors=TICK_C)
    for s in ax.spines.values():
        s.set_color("#262626")
        s.set_linewidth(0.7)
    ax.set_title(title, fontsize=9.5, fontweight="bold", color="#111111", pad=5)
    ax.set_xlabel(xlabel, fontsize=10.5, color=TICK_C, labelpad=2)
    ax.set_ylabel(ylabel, fontsize=10.5, color=TICK_C, labelpad=3)


fig = plt.figure(figsize=(W / 100, H / 100), dpi=100)

it_ticks = [0, 10, 20, 30, 40, 50]
run_ticks = [0, 5, 10, 15, 20, 25, 30]

ax1 = fig.add_axes(px_rect(193, 45, 489, 242))
draw_panel(ax1, iters, conv_err, "Convergence of error", "Iteration", "Error",
           (0.075, 0.08), [0.075, 0.076, 0.077, 0.078, 0.079, 0.08], it_ticks)
ax2 = fig.add_axes(px_rect(583, 45, 878, 242))
draw_panel(ax2, iters, avg_err, "Average convegence of error", "Iteration",
           "Average RMSEof all samples", (0.075, 0.08),
           [0.075, 0.076, 0.077, 0.078, 0.079, 0.08], it_ticks)
ax3 = fig.add_axes(px_rect(970, 45, 1267, 242))
draw_panel(ax3, runs, stab_err, "Stability diagram of error", "Execution number", "Error",
           (0.0755, 0.078), [0.0755, 0.076, 0.0765, 0.077, 0.0775, 0.078], run_ticks)
ax4 = fig.add_axes(px_rect(194, 318, 489, 515))
draw_panel(ax4, iters, conv_cor, "Convergence of Correlation", "Iteration", "Correlation",
           (0, 0.05), [0, 0.01, 0.02, 0.03, 0.04, 0.05], it_ticks)
ax5 = fig.add_axes(px_rect(583, 318, 878, 515))
draw_panel(ax5, iters, avg_cor, "Average convegence of correlation", "Iteration",
           "Average correlation of all samples", (0, 0.05),
           [0, 0.01, 0.02, 0.03, 0.04, 0.05], it_ticks)
ax6 = fig.add_axes(px_rect(972, 318, 1267, 515))
draw_panel(ax6, runs, stab_cor, "Stability diagram of correlation", "Execution number",
           "Correlation", (0.01, 0.05), [0.01, 0.02, 0.03, 0.04, 0.05], run_ticks)

# legend on the far left
handles, labels = ax1.get_legend_handles_labels()
leg = fig.legend(handles, labels, loc="upper left", bbox_to_anchor=(32 / W, 1 - 202 / H),
                 frameon=True, fancybox=False, edgecolor="#333333", fontsize=9,
                 handlelength=3.2, labelspacing=0.42, borderpad=0.4, handletextpad=0.3,
                 borderaxespad=0)
leg.get_frame().set_linewidth(0.8)
for t in leg.get_texts():
    t.set_color("#222222")

# outer frame
fig.patches.append(FancyBboxPatch((8 / W, 7 / H), 1276 / W, 638 / H,
                                  boxstyle="round,pad=0,rounding_size=0.008",
                                  transform=fig.transFigure, fill=False,
                                  ec="#333333", lw=1.0))

# caption
cap_font = ["Liberation Sans", "DejaVu Sans"]
renderer = fig.canvas.get_renderer()
ys = [587, 610, 633]
size = 12.0
tb = fig.text(22 / W, 1 - ys[0] / H, caption_bold, fontsize=size, fontweight="bold",
              family=cap_font, va="center", color="#222222")
bb = tb.get_window_extent(renderer)
t1 = fig.text(bb.x1 / W, 1 - ys[0] / H, caption_lines[0], fontsize=size,
              family=cap_font, va="center", color="#222222")
# scale font so the first line fills the caption width
right = t1.get_window_extent(renderer).x1
scale = (1263 - 22) / (right - 22)
size = size * scale
tb.set_fontsize(size)
bb = tb.get_window_extent(renderer)
t1.set_fontsize(size)
t1.set_x(bb.x1 / W)
for k in (1, 2):
    fig.text(22 / W, 1 - ys[k] / H, caption_lines[k], fontsize=size, family=cap_font,
             va="center", color="#222222")

fig.savefig("out.png", dpi=100)
